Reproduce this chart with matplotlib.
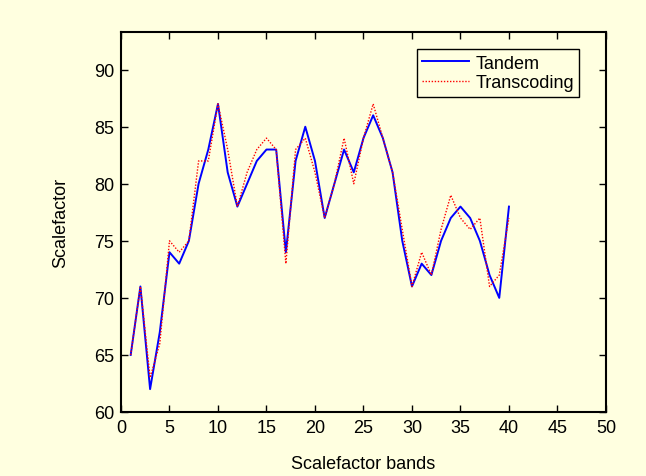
import matplotlib
matplotlib.use("Agg")
import matplotlib.pyplot as plt

plt.rcParams['font.family'] = ['Liberation Sans', 'DejaVu Sans']

bands = list(range(1, 41))
tandem = [65, 71, 62, 67, 74, 73, 75, 80, 83, 87,
          81, 78, 80, 82, 83, 83, 74, 82, 85, 82,
          77, 80, 83, 81, 84, 86, 84, 81, 75, 71,
          73, 72, 75, 77, 78, 77, 75, 72, 70, 78]
transcoding = [65, 71, 63, 66, 75, 74, 75, 82, 82, 87,
               83, 78, 81, 83, 84, 83, 73, 83, 84, 81,
               77, 80, 84, 80, 84, 87, 84, 81, 76, 71,
               74, 72, 76, 79, 77, 76, 77, 71, 72, 77]
xticks = [0, 5, 10, 15, 20, 25, 30, 35, 40, 45, 50]
yticks = [60, 65, 70, 75, 80, 85, 90]

bg = '#FFFFE0'
fig = plt.figure(figsize=(6.46, 4.77), dpi=100, facecolor=bg)
ax = fig.add_axes([0.1873, 0.1342, 0.938 - 0.1873, 0.9308 - 0.1342])
ax.set_facecolor(bg)

ax.plot(bands, tandem, color='#0000FF', lw=1.4, label='Tandem')
ax.plot(bands, transcoding, color='#FF0000', lw=1.0, ls=(0, (1, 1.2)), label='Transcoding')

ax.set_xlim(0, 50)
ax.set_ylim(60, 93.3)
ax.set_xticks(xticks)
ax.set_yticks(yticks)
ax.tick_params(direction='in', top=True, right=True, length=5, width=1, labelsize=13, pad=5)
for s in ax.spines.values():
    s.set_linewidth(1.5)
ax.set_xlabel('Scalefactor bands', fontsize=13, labelpad=14)
ax.set_ylabel('Scalefactor', fontsize=13, labelpad=18)

leg = ax.legend(loc='upper right', bbox_to_anchor=(0.945, 0.955), fontsize=13,
                frameon=True, fancybox=False, framealpha=1, edgecolor='black',
                facecolor=bg, handlelength=2.6, borderpad=0.3, labelspacing=0.15,
                handletextpad=0.35, borderaxespad=0)
leg.get_frame().set_linewidth(1.0)

fig.savefig('out.png', dpi=100, facecolor=bg)
